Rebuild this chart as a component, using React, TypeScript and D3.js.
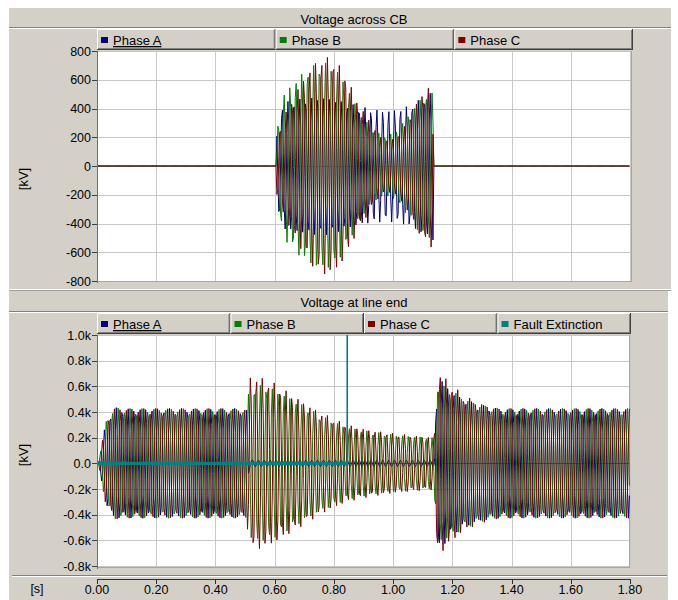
import React from 'react';
import * as d3 from 'd3';

// time axis (s)
const timeTicks = [0, 0.2, 0.4, 0.6, 0.8, 1.0, 1.2, 1.4, 1.6, 1.8];
const timeLabels = ['0.00', '0.20', '0.40', '0.60', '0.80', '1.00', '1.20', '1.40', '1.60', '1.80'];

// top chart y ticks (kV)
const cbTicks = [800, 600, 400, 200, 0, -200, -400, -600, -800];
// bottom chart y ticks (kV)
const endTicks = [1000, 800, 600, 400, 200, 0, -200, -400, -600, -800];
const endTickLabels = ['1.0k', '0.8k', '0.6k', '0.4k', '0.2k', '0.0', '-0.2k', '-0.4k', '-0.6k', '-0.8k'];

const phaseNames = ['Phase A', 'Phase B', 'Phase C'];
const phaseColors = ['#000080', '#008000', '#800000'];
const phaseAngles = [0, -120, 120]; // deg
const freq = 50; // Hz
const plotStep = 0.0031; // s, the plotting program's decimated sample step

// voltage across CB: envelope of each phase (kV)
const cbTimes = [0, 0.606, 0.607, 0.63, 0.66, 0.70, 0.74, 0.77, 0.80, 0.84, 0.88, 0.92, 0.96, 1.00, 1.04, 1.08, 1.11, 1.136, 1.137, 1.8];
const cbPhaseA = [0, 0, 300, 440, 460, 470, 480, 480, 470, 440, 420, 400, 390, 390, 410, 450, 490, 520, 0, 0];
const cbPhaseB = [0, 0, 250, 500, 580, 660, 710, 720, 700, 580, 400, 280, 215, 225, 320, 440, 500, 510, 0, 0];
const cbPhaseC = [0, 0, 200, 340, 470, 620, 730, 760, 750, 640, 450, 320, 195, 185, 280, 440, 550, 570, 0, 0];

// voltage at line end: envelope of each phase (kV)
const endTimes = [0, 0.005, 0.03, 0.06, 0.1, 0.505, 0.515, 0.56, 0.6, 0.67, 0.75, 0.84, 0.92, 1.0, 1.08, 1.138, 1.15, 1.2, 1.24, 1.3, 1.36, 1.8];
const endPhaseA = [0, 0, 330, 435, 428, 428, 30, 25, 25, 25, 25, 25, 25, 25, 25, 25, 690, 560, 500, 455, 428, 428];
const endPhaseB = [0, 0, 330, 435, 428, 428, 600, 610, 580, 490, 380, 285, 250, 225, 210, 200, 630, 570, 510, 455, 428, 428];
const endPhaseC = [0, 0, 330, 435, 428, 428, 680, 665, 625, 520, 405, 305, 260, 235, 215, 205, 730, 610, 530, 465, 428, 428];

// fault extinction signal
const faultTimes = [0, 0.845, 0.845, 1.8];
const faultValues = [0, 0, 1200, 1200];

const FONT = '"Liberation Sans", Arial, sans-serif';
const BG = '#d4d0c8';

const x = d3.scaleLinear().domain([0, 1.8]).range([97, 630]);
const samples = d3.range(0, 1.8, plotStep);

function wave(times: number[], amps: number[], angle: number, y: d3.ScaleLinear<number, number>) {
  const env = d3.scaleLinear().domain(times).range(amps).clamp(true);
  const line = d3.line<number>()
    .x(t => x(t))
    .y(t => y(env(t) * Math.sin(2 * Math.PI * freq * t + (angle * Math.PI) / 180)));
  return line(samples) || '';
}

function Legend({ names, colors, left, right, top }: { names: string[]; colors: string[]; left: number; right: number; top: number }) {
  const w = (right - left) / names.length;
  const h = 21;
  return (
    <g>
      {names.map((n, i) => {
        const x0 = left + i * w;
        return (
          <g key={n}>
            <rect x={x0} y={top} width={w} height={h} fill={BG} />
            <line x1={x0 + 0.5} y1={top + 0.5} x2={x0 + w} y2={top + 0.5} stroke="#fff" />
            <line x1={x0 + 0.5} y1={top + 0.5} x2={x0 + 0.5} y2={top + h} stroke="#fff" />
            <line x1={x0 + w - 1.5} y1={top + 1} x2={x0 + w - 1.5} y2={top + h - 1} stroke="#808080" />
            <line x1={x0 + 1} y1={top + h - 1.5} x2={x0 + w - 1} y2={top + h - 1.5} stroke="#808080" />
            <line x1={x0 + w - 0.5} y1={top} x2={x0 + w - 0.5} y2={top + h} stroke="#404040" />
            <line x1={x0} y1={top + h - 0.5} x2={x0 + w} y2={top + h - 0.5} stroke="#404040" />
            <rect x={x0 + 4} y={top + 8} width={7} height={6} fill={colors[i]} />
            <text x={x0 + 16} y={top + 16} fontSize={13} fontFamily={FONT}
              textDecoration={i === 0 ? 'underline' : undefined}>{n}</text>
          </g>
        );
      })}
    </g>
  );
}

function Plot({ y, ticks, labels, top, bottom, right, id, zeroDark }: {
  y: d3.ScaleLinear<number, number>; ticks: number[]; labels: string[]; top: number; bottom: number; right: number; id: string; zeroDark?: boolean;
}) {
  return (
    <g>
      <rect x={97} y={top} width={right - 97} height={bottom - top} fill="#fff" />
      <clipPath id={id}><rect x={98} y={top} width={right - 98} height={bottom - top} /></clipPath>
      {timeTicks.slice(1).map(t => (
        <line key={t} x1={Math.round(x(t)) + 0.5} x2={Math.round(x(t)) + 0.5} y1={top} y2={bottom} stroke="#c8c8c8" />
      ))}
      {ticks.map(v => (
        <line key={v} x1={97} x2={right} y1={Math.round(y(v)) + 0.5} y2={Math.round(y(v)) + 0.5}
          stroke={v === 0 && zeroDark ? '#707070' : '#c8c8c8'} />
      ))}
      <line x1={right - 0.5} x2={right - 0.5} y1={top} y2={bottom} stroke="#a8a8a8" />
      <line x1={97} x2={right} y1={bottom - 0.5} y2={bottom - 0.5} stroke="#a8a8a8" />
      <line x1={97.5} x2={97.5} y1={top} y2={bottom + 1} stroke="#707070" />
      {ticks.map((v, i) => (
        <g key={v}>
          <line x1={92} x2={97} y1={Math.round(y(v)) + 0.5} y2={Math.round(y(v)) + 0.5} stroke="#404040" />
          <text x={91} y={y(v) + 4.5} textAnchor="end" fontSize={12.5} fontFamily={FONT}>{labels[i]}</text>
        </g>
      ))}
    </g>
  );
}

export default function App() {
  const yCB = d3.scaleLinear().domain([-800, 800]).range([281, 51]);
  const yEnd = d3.scaleLinear().domain([-800, 1000]).range([566, 335]);

  const cbData = [cbPhaseA, cbPhaseB, cbPhaseC];
  const endData = [endPhaseA, endPhaseB, endPhaseC];

  const faultLine = d3.line<number>().x(i => x(faultTimes[i])).y(i => yEnd(faultValues[i]));
  const faultIdx = faultTimes.map((_, i) => i);
  const faultZeroIdx = faultIdx.filter(i => faultValues[i] === 0);

  return (
    <svg width={678} height={600} style={{ position: 'absolute', left: 0, top: 0, background: '#fff' }}>
      {/* top panel */}
      <rect x={9} y={8} width={662} height={281} fill={BG} />
      <text x={354} y={24} textAnchor="middle" fontSize={13} fontFamily={FONT}>Voltage across CB</text>
      <line x1={9} x2={671} y1={27.5} y2={27.5} stroke="#808080" />
      <line x1={9} x2={671} y1={28.5} y2={28.5} stroke="#fff" />
      <Legend names={phaseNames} colors={phaseColors} left={97} right={633} top={29} />
      <Plot y={yCB} ticks={cbTicks} labels={cbTicks.map(String)} top={51} bottom={282} right={632} id="clipCB" />
      <g clipPath="url(#clipCB)" fill="none" strokeWidth={1} strokeLinejoin="miter">
        {cbData.map((amps, i) => (
          <path key={i} d={wave(cbTimes, amps, phaseAngles[i], yCB)} stroke={phaseColors[i]} />
        ))}
      </g>
      <text transform="translate(28,179) rotate(-90)" textAnchor="middle" fontSize={13} fontFamily={FONT}>[kV]</text>

      {/* bottom panel */}
      <line x1={9} x2={671} y1={290.5} y2={290.5} stroke="#a0a0a0" />
      <rect x={9} y={291} width={659} height={309} fill={BG} />
      <text x={354} y={307} textAnchor="middle" fontSize={13} fontFamily={FONT}>Voltage at line end</text>
      <line x1={9} x2={668} y1={311.5} y2={311.5} stroke="#808080" />
      <line x1={9} x2={668} y1={312.5} y2={312.5} stroke="#fff" />
      <Legend names={[...phaseNames, 'Fault Extinction']} colors={[...phaseColors, '#008080']} left={97} right={631} top={313} />
      <Plot y={yEnd} ticks={endTicks} labels={endTickLabels} top={335} bottom={568} right={630} id="clipEnd" zeroDark />
      <g clipPath="url(#clipEnd)" fill="none" strokeWidth={1} strokeLinejoin="miter">
        {endData.map((amps, i) => (
          <path key={i} d={wave(endTimes, amps, phaseAngles[i], yEnd)} stroke={phaseColors[i]} />
        ))}
        <path d={faultLine(faultIdx) || ''} stroke="#008080" strokeWidth={1.6} />
        <path d={faultLine(faultZeroIdx) || ''} stroke="#008080" strokeWidth={3.4} />
      </g>
      <text transform="translate(28,455) rotate(-90)" textAnchor="middle" fontSize={13} fontFamily={FONT}>[kV]</text>

      {/* time axis */}
      <line x1={12} x2={667} y1={575.5} y2={575.5} stroke="#808080" />
      <line x1={12} x2={667} y1={576.5} y2={576.5} stroke="#fff" />
      <line x1={97} x2={631} y1={579.5} y2={579.5} stroke="#303030" />
      {timeTicks.map((t, i) => (
        <g key={t}>
          <line x1={Math.round(x(t)) + 0.5} x2={Math.round(x(t)) + 0.5} y1={579} y2={584} stroke="#303030" />
          <text x={x(t)} y={594} textAnchor="middle" fontSize={12.5} fontFamily={FONT}>{timeLabels[i]}</text>
        </g>
      ))}
      <text x={37} y={593} textAnchor="middle" fontSize={12.5} fontFamily={FONT}>[s]</text>
    </svg>
  );
}
